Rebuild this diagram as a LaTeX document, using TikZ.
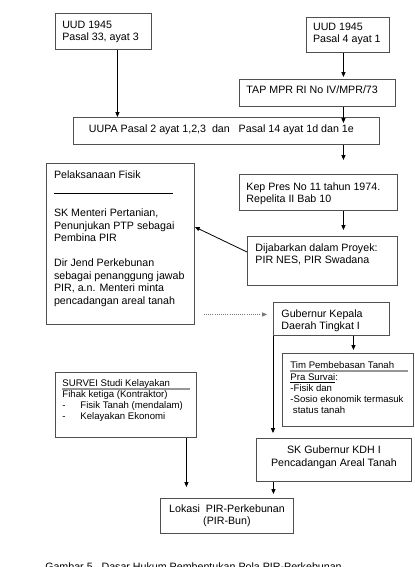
\documentclass[tikz,border=0pt]{standalone}
\usepackage{fontspec}
\setmainfont{Liberation Sans}
\usetikzlibrary{arrows.meta}
\definecolor{boxgray}{RGB}{80,80,80}
\definecolor{rulegray}{RGB}{150,150,150}
\definecolor{dotgray}{RGB}{120,120,120}
\newdimen\pxu \pxu=0.75pt
% text of a box: width, height, left pad, top pad, lines
\newcommand{\lbox}[5]{\parbox[t][#2\pxu][t]{#1\pxu}{\vspace*{#4\pxu}\raggedright\leftskip=#3\pxu\relax #5}}
\newcommand{\cbox}[4]{\parbox[t][#2\pxu][t]{#1\pxu}{\vspace*{#3\pxu}\centering #4}}

\begin{document}
\begin{tikzpicture}
[x=0.75pt,y=-0.75pt,
box/.style={draw=boxgray,line width=0.9\pxu,inner sep=0pt,anchor=north west,
font=\fontsize{8}{9.2}\selectfont},
smallbox/.style={box,font=\fontsize{7.2}{8.3}\selectfont},
arr/.style={-{Triangle[length=3.6pt,width=3pt]},line width=0.6pt},
dotarr/.style={arr,draw=dotgray,densely dotted,line width=0.5pt},
rulegray/.style={draw=rulegray,line width=1.3\pxu}]
  \useasboundingbox (0,0) rectangle (414,567);
  \node[box] (uudA) at (55,13) {\lbox{96}{36}{6.8}{7.7}{UUD 1945\\Pasal 33, ayat 3}};
  \node[box] (uudB) at (306,17) {\lbox{83}{35}{6.6}{5.7}{UUD 1945\\Pasal 4 ayat 1}};
  \node[box] (tap) at (239,79) {\lbox{156}{27}{7}{6}{TAP MPR RI No IV/MPR/73}};
  \node[box] (uupa) at (73,117) {\lbox{306}{27}{15.5}{7}{UUPA Pasal 2 ayat 1,2,3\ \ dan\ \ \ Pasal 14 ayat 1d dan 1e}};
  \node[box] (kep) at (239,174) {\lbox{158}{36}{7}{8.3}{Kep Pres No 11 tahun 1974.\\Repelita II Bab 10}};
  \node[box] (dij) at (247,236) {\lbox{150}{49}{8}{7.3}{Dijabarkan dalam Proyek:\\PIR NES, PIR Swadana}};
  \node[box,font=\fontsize{8}{9.4}\selectfont] (pel) at (46,163) {\lbox{148}{161}{7.6}{7.7}{Pelaksanaan Fisik\\
    \rule[-2.3\pxu]{119\pxu}{0.9\pxu}\\[9.4pt]
    SK Menteri Pertanian,\\Penunjukan PTP sebagai\\Pembina PIR\\[9.4pt]
    Dir Jend Perkebunan\\sebagai penanggung jawab\\PIR, a.n. Menteri minta\\pencadangan areal tanah}};
  \node[box] (gub) at (273,302) {\lbox{116}{33}{8}{7}{Gubernur Kepala\\Daerah Tingkat I}};
  \node[smallbox] (tim) at (282,353) {\lbox{131}{73}{8}{8.3}{Tim Pembebasan Tanah\\[1\pxu]
    \underline{Pra Survai}:\\-Fisik dan\\-Sosio ekonomik termasuk\\\hspace*{2.5\pxu}status tanah}};
  \node[smallbox] (survei) at (55,372) {\lbox{141}{65}{7}{7.3}{SURVEI Studi Kelayakan\\
    Fihak ketiga (Kontraktor)\\\makebox[18\pxu][l]{-}Fisik Tanah (mendalam)\\\makebox[18\pxu][l]{-}Kelayakan Ekonomi}};
  \node[box] (skg) at (256,438) {\cbox{155}{43}{7.7}{SK Gubernur KDH I\\Pencadangan Areal Tanah}};
  \node[box] (lok) at (160,498) {\cbox{133}{35}{6}{Lokasi\ \ PIR-Perkebunan\\(PIR-Bun)}};
  \node[anchor=base west,inner sep=0pt,font=\fontsize{8}{9.2}\selectfont] (caption) at (45,570.6)
    {Gambar 5.\ \ Dasar Hukum Pembentukan Pola PIR-Perkebunan};
  % rules inside boxes
  \draw[rulegray] ([xshift=8\pxu,yshift=-18\pxu]tim.north west) -- ([xshift=-6\pxu,yshift=-18\pxu]tim.north east);
  \draw[rulegray] ([xshift=7\pxu,yshift=-17\pxu]survei.north west) -- ([xshift=-7\pxu,yshift=-17\pxu]survei.north east);
  % connectors
  \draw[arr] ([xshift=14\pxu]uudA.south) -- ([xshift=14\pxu]uudA.south |- uupa.north);
  \draw[arr] ([xshift=-4.5\pxu]uudB.south) -- ([xshift=-4.5\pxu,yshift=2\pxu]uudB.south |- tap.north);
  \draw[arr] ([xshift=26\pxu]tap.south) -- ([xshift=26\pxu,yshift=-6\pxu]tap.south |- uupa.north);
  \draw[arr] ([xshift=117\pxu]uupa.south) -- ([xshift=117\pxu,yshift=14\pxu]uupa.south |- kep.north);
  \draw[arr] ([xshift=25\pxu]kep.south) -- ([xshift=25\pxu,yshift=6\pxu]kep.south |- dij.north);
  \draw[arr] ([yshift=-16\pxu]dij.north west) -- ([yshift=-64\pxu]pel.north east);
  \coordinate (gubin) at ([xshift=-6\pxu,yshift=4.5\pxu]gub.west);
  \draw[dotarr] ([xshift=9\pxu]pel.east |- gubin) -- (gubin);
  \draw[arr] ([xshift=22\pxu]gub.south) -- ([xshift=22\pxu,yshift=3\pxu]gub.south |- tim.north);
  \draw[arr] (gub.south west) -- ([yshift=5\pxu]gub.south west |- skg.north);
  \draw[arr] ([xshift=60.5\pxu]survei.south) -- ([xshift=60.5\pxu,yshift=11\pxu]survei.south |- lok.north);
  \draw[arr] ([xshift=-60.5\pxu]skg.south) -- ([xshift=-60.5\pxu,yshift=4\pxu]skg.south |- lok.north);
\end{tikzpicture}
\end{document}
